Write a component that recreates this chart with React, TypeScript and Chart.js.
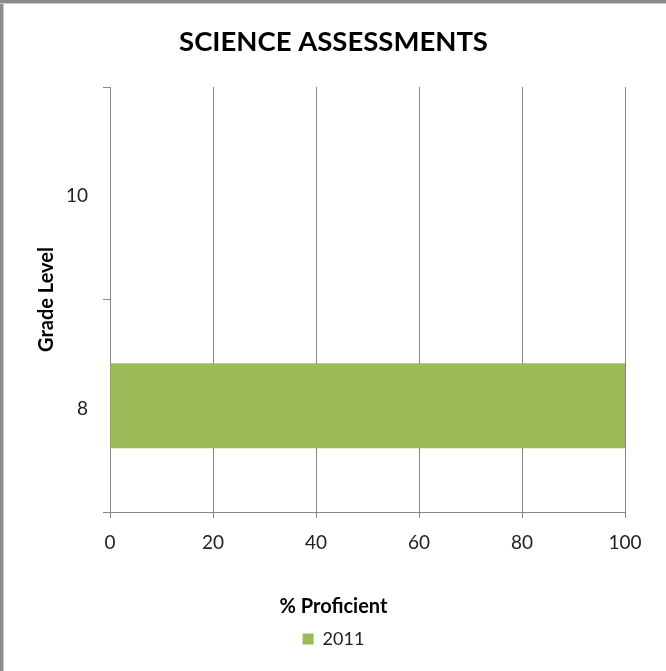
import React, { useEffect, useRef } from "react";
import { Chart, registerables } from "chart.js";

Chart.register(...registerables);

const categories = ["10", "8"];
const series2011 = [null, 100];
const seriesLabel = "2011";
const xTicks = [0, 20, 40, 60, 80, 100];
const chartTitle = "SCIENCE ASSESSMENTS";
const xTitle = "% Proficient";
const yTitle = "Grade Level";

const FONT = "Lato, 'Open Sans', sans-serif";

export default function App() {
  const ref = useRef<HTMLCanvasElement | null>(null);
  useEffect(() => {
    if (!ref.current) return;
    const chart = new Chart(ref.current, {
      type: "bar",
      data: {
        labels: categories,
        datasets: [
          {
            label: seriesLabel,
            data: series2011 as any,
            backgroundColor: "#9BBB59",
            borderWidth: 0,
            barPercentage: 0.4,
            categoryPercentage: 1,
          },
        ],
      },
      options: {
        indexAxis: "y",
        animation: false,
        responsive: false,
        maintainAspectRatio: false,
        layout: { padding: { left: 42, right: 41, top: 0, bottom: 13 } },
        plugins: {
          title: {
            display: true,
            text: chartTitle,
            color: "#000",
            font: { family: FONT, size: 27.5, weight: "bold" },
            padding: { top: 26, bottom: 28 },
          },
          legend: {
            display: true,
            position: "bottom",
            align: "center",
            title: {
              display: true,
              text: xTitle,
              color: "#000",
              font: { family: FONT, size: 20, weight: "bold" },
              padding: { top: 0, bottom: -1 },
            },
            labels: {
              color: "#222",
              font: { family: FONT, size: 18 },
              boxWidth: 11,
              boxHeight: 11,
              padding: 10,
            },
          },
          tooltip: { enabled: false },
        },
        scales: {
          x: {
            type: "linear",
            min: 0,
            max: 100,
            afterBuildTicks: (scale: any) => {
              scale.ticks = xTicks.map((v) => ({ value: v }));
            },
            afterFit: (scale: any) => {
              scale.height = 85;
            },
            ticks: {
              color: "#222",
              font: { family: FONT, size: 19 },
              padding: 13,
            },
            grid: {
              color: "#868686",
              lineWidth: 1,
              drawTicks: true,
              tickLength: 6,
            },
            border: { display: true, color: "#868686", width: 1 },
          },
          y: {
            type: "category",
            offset: true,
            afterFit: (scale: any) => {
              scale.width = 68;
            },
            title: {
              display: true,
              text: yTitle,
              color: "#000",
              font: { family: FONT, size: 20, weight: "bold" },
              padding: { top: -7.5, bottom: 0 },
            },
            ticks: {
              color: "#222",
              font: { family: FONT, size: 19 },
              padding: 15,
              labelOffset: 3,
            },
            grid: {
              offset: true,
              drawOnChartArea: false,
              drawTicks: true,
              tickLength: 7,
              color: "#868686",
            },
            border: { display: true, color: "#868686", width: 1 },
          },
        },
      },
    });
    return () => chart.destroy();
  }, []);

  return (
    <div
      style={{
        position: "fixed",
        left: 0,
        top: 0,
        width: 666,
        height: 671,
        background: "#fff",
      }}
    >
      <canvas ref={ref} width={666} height={671} style={{ display: "block" }} />
      <div style={{ position: "absolute", left: 0, top: 0, width: 3, height: 671, background: "#8c8c8c", borderRight: "1px solid #c8c8c8" }} />
      <div style={{ position: "absolute", left: 0, top: 0, width: 666, height: 3, background: "#8c8c8c", borderBottom: "1px solid #c8c8c8" }} />
    </div>
  );
}
